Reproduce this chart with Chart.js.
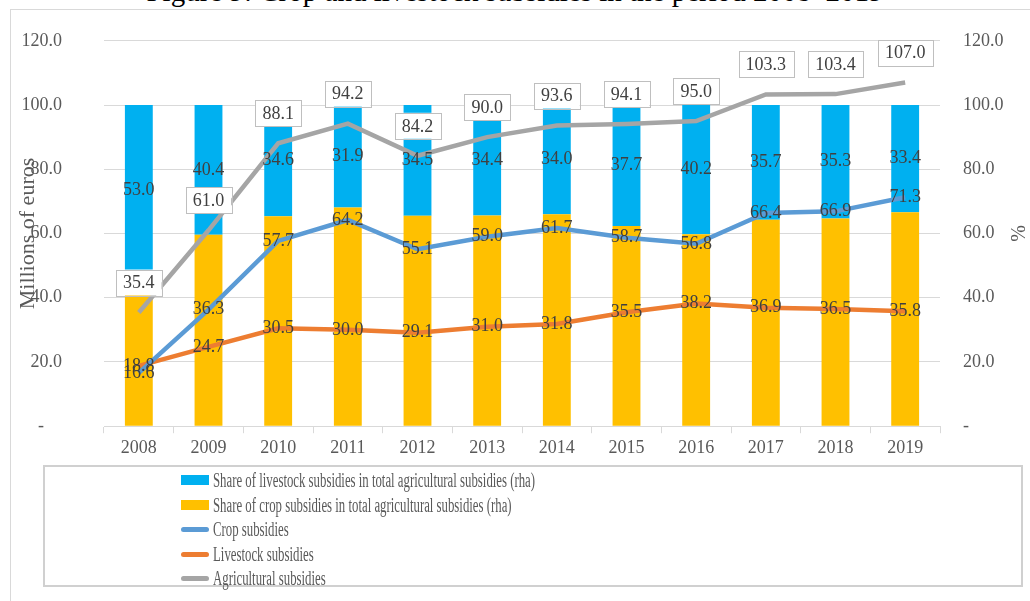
<!DOCTYPE html>
<html>
<head>
<meta charset="utf-8">
<script src="https://cdn.jsdelivr.net/npm/chart.js@4.4.1/dist/chart.umd.min.js"></script>
<style>
  html, body { margin: 0; padding: 0; background: #fff; overflow: hidden; }
  #page { position: relative; width: 1030px; height: 601px; }
  #title { position: absolute; left: 0; top: -24px; width: 1030px; text-align: center;
           font: 29px 'Liberation Serif', serif; color: #000; line-height: 30px; }
  #frame { position: absolute; left: 10px; top: 9px; width: 1030px; height: 620px; border: 1px solid #d9d9d9; }
  #wrap { position: absolute; left: 0; top: -12px; width: 1030px; height: 491px; }
  #legend { position: absolute; left: 43px; top: 465px; width: 980px; height: 122px;
            border: 2px solid #d0d0d0; box-sizing: border-box; }
  .item { position: absolute; left: 136px; height: 24px; }
  .mark { position: absolute; left: 0; width: 28px; }
  .txt { position: absolute; left: 32px; top: 0; white-space: nowrap; font: 20px 'Liberation Serif', serif;
         color: #595959; transform: scaleX(0.64); transform-origin: left center; line-height: 24px; }
</style>
</head>
<body>
<div id="page">
  <div id="title">Figure 9: Crop and livestock subsidies in the period 2008–2019</div>
  <div id="frame"></div>
  <div id="wrap"><canvas id="myChart" width="1030" height="491"></canvas></div>
  <div id="legend"></div>
</div>
<script>
// data
const years = ['2008', '2009', '2010', '2011', '2012', '2013', '2014', '2015', '2016', '2017', '2018', '2019'];
const livestockShare = [53.0, 40.4, 34.6, 31.9, 34.5, 34.4, 34.0, 37.7, 40.2, 35.7, 35.3, 33.4];
const cropShare = [47.0, 59.6, 65.4, 68.1, 65.5, 65.6, 66.0, 62.3, 59.8, 64.3, 64.7, 66.6];
const cropSubsidies = [16.6, 36.3, 57.7, 64.2, 55.1, 59.0, 61.7, 58.7, 56.8, 66.4, 66.9, 71.3];
const livestockSubsidies = [18.8, 24.7, 30.5, 30.0, 29.1, 31.0, 31.8, 35.5, 38.2, 36.9, 36.5, 35.8];
const agriSubsidies = [35.4, 61.0, 88.1, 94.2, 84.2, 90.0, 93.6, 94.1, 95.0, 103.3, 103.4, 107.0];

const serif = "'Liberation Serif', 'Times New Roman', serif";
const labelColor = '#404040';
const axisColor = '#595959';

// draws the value labels, the axis titles
const labelPlugin = {
  id: 'labels',
  afterDatasetsDraw(chart) {
    const ctx = chart.ctx;
    ctx.save();
    ctx.font = '18px ' + serif;
    ctx.textAlign = 'center';
    ctx.textBaseline = 'middle';
    chart.data.datasets.forEach((ds, i) => {
      if (!ds.labelMode) return;
      const meta = chart.getDatasetMeta(i);
      meta.data.forEach((el, j) => {
        const txt = ds.data[j].toFixed(1);
        if (ds.labelMode === 'bar') {
          const p = el.getProps(['x', 'y', 'base'], true);
          ctx.fillStyle = labelColor;
          ctx.fillText(txt, p.x, (p.y + p.base) / 2);
        } else if (ds.labelMode === 'center') {
          ctx.fillStyle = labelColor;
          ctx.fillText(txt, el.x, el.y);
        } else if (ds.labelMode === 'box') {
          const w = ctx.measureText(txt).width + 14;
          const h = 26;
          const cy = el.y - 30;
          ctx.fillStyle = '#fff';
          ctx.fillRect(el.x - w / 2, cy - h / 2, w, h);
          ctx.strokeStyle = '#bfbfbf';
          ctx.lineWidth = 1;
          ctx.strokeRect(Math.round(el.x - w / 2) + 0.5, Math.round(cy - h / 2) + 0.5, Math.round(w), h);
          ctx.fillStyle = labelColor;
          ctx.fillText(txt, el.x, cy + 1);
        }
      });
    });
    // axis titles
    const area = chart.chartArea;
    const midY = (area.top + area.bottom) / 2;
    ctx.fillStyle = axisColor;
    ctx.font = '22px ' + serif;
    ctx.translate(28, midY);
    ctx.rotate(-Math.PI / 2);
    ctx.fillText('Millions of euros', 0, 0);
    ctx.restore();
    ctx.save();
    ctx.fillStyle = axisColor;
    ctx.font = '20px ' + serif;
    ctx.textAlign = 'center';
    ctx.textBaseline = 'middle';
    ctx.translate(1020, midY);
    ctx.rotate(-Math.PI / 2);
    ctx.fillText('%', 0, 0);
    ctx.restore();
  }
};

function tickText(v, side) {
  if (v === 0) return side === 'left' ? '-    ' : '-';
  return v.toFixed(1);
}

const ctx = document.getElementById('myChart');
const myChart = new Chart(ctx, {
  type: 'bar',
  data: {
    labels: years,
    datasets: [
      { label: 'Crop subsidies', type: 'line', data: cropSubsidies, yAxisID: 'y',
        borderColor: '#5b9bd5', backgroundColor: '#5b9bd5', borderWidth: 4.5, pointRadius: 0,
        tension: 0, order: 1, labelMode: 'center', legendKind: 'line' },
      { label: 'Livestock subsidies', type: 'line', data: livestockSubsidies, yAxisID: 'y',
        borderColor: '#ed7d31', backgroundColor: '#ed7d31', borderWidth: 4.5, pointRadius: 0,
        tension: 0, order: 1, labelMode: 'center', legendKind: 'line' },
      { label: 'Agricultural subsidies', type: 'line', data: agriSubsidies, yAxisID: 'y',
        borderColor: '#a5a5a5', backgroundColor: '#a5a5a5', borderWidth: 4.5, pointRadius: 0,
        tension: 0, order: 1, labelMode: 'box', legendKind: 'line' },
      { label: 'Share of crop subsidies in total agricultural subsidies (rha)', data: cropShare,
        yAxisID: 'y2', stack: 'share', backgroundColor: '#ffc000', order: 2, legendKind: 'box' },
      { label: 'Share of livestock subsidies in total agricultural subsidies (rha)', data: livestockShare,
        yAxisID: 'y2', stack: 'share', backgroundColor: '#00b0f0', order: 2, labelMode: 'bar', legendKind: 'box' }
    ]
  },
  options: {
    responsive: false,
    animation: false,
    layout: { padding: { top: 28, right: 0, bottom: 0, left: 0 } },
    datasets: { bar: { barPercentage: 0.4, categoryPercentage: 1 } },
    plugins: { legend: { display: false }, tooltip: { enabled: false } },
    scales: {
      x: {
        stacked: true,
        grid: { offset: true, drawOnChartArea: false, drawTicks: true, tickLength: 7, color: '#d9d9d9' },
        border: { display: true, color: '#d9d9d9' },
        ticks: { color: axisColor, font: { family: serif, size: 18 }, padding: 4, maxRotation: 0 },
        afterFit(s) { s.height = 40; }
      },
      y: {
        position: 'left', min: 0, max: 120,
        grid: { color: '#d9d9d9', drawTicks: false },
        border: { display: false },
        ticks: { stepSize: 20, color: axisColor, font: { family: serif, size: 18 }, padding: 42,
                 callback: v => tickText(v, 'left') },
        afterFit(s) { s.width = 104; }
      },
      y2: {
        position: 'right', min: 0, max: 120, stacked: true,
        grid: { drawOnChartArea: false, drawTicks: false },
        border: { display: false },
        ticks: { stepSize: 20, color: axisColor, font: { family: serif, size: 18 }, padding: 23,
                 callback: v => tickText(v, 'right') },
        afterFit(s) { s.width = 90; }
      }
    }
  },
  plugins: [labelPlugin]
});

// legend in the order used by the figure
const legendOrder = [4, 3, 0, 1, 2];
const legendBox = document.getElementById('legend');
legendOrder.forEach((idx, k) => {
  const ds = myChart.data.datasets[idx];
  const item = document.createElement('div');
  item.className = 'item';
  item.style.top = (1 + k * 24.6) + 'px';
  const mark = document.createElement('div');
  mark.className = 'mark';
  if (ds.legendKind === 'box') {
    mark.style.top = '7px';
    mark.style.height = '10px';
  } else {
    mark.style.top = '10px';
    mark.style.height = '5px';
    mark.style.borderRadius = '3px';
  }
  mark.style.background = ds.legendKind === 'box' ? ds.backgroundColor : ds.borderColor;
  const txt = document.createElement('div');
  txt.className = 'txt';
  txt.textContent = ds.label;
  item.appendChild(mark);
  item.appendChild(txt);
  legendBox.appendChild(item);
});
</script>
</body>
</html>
